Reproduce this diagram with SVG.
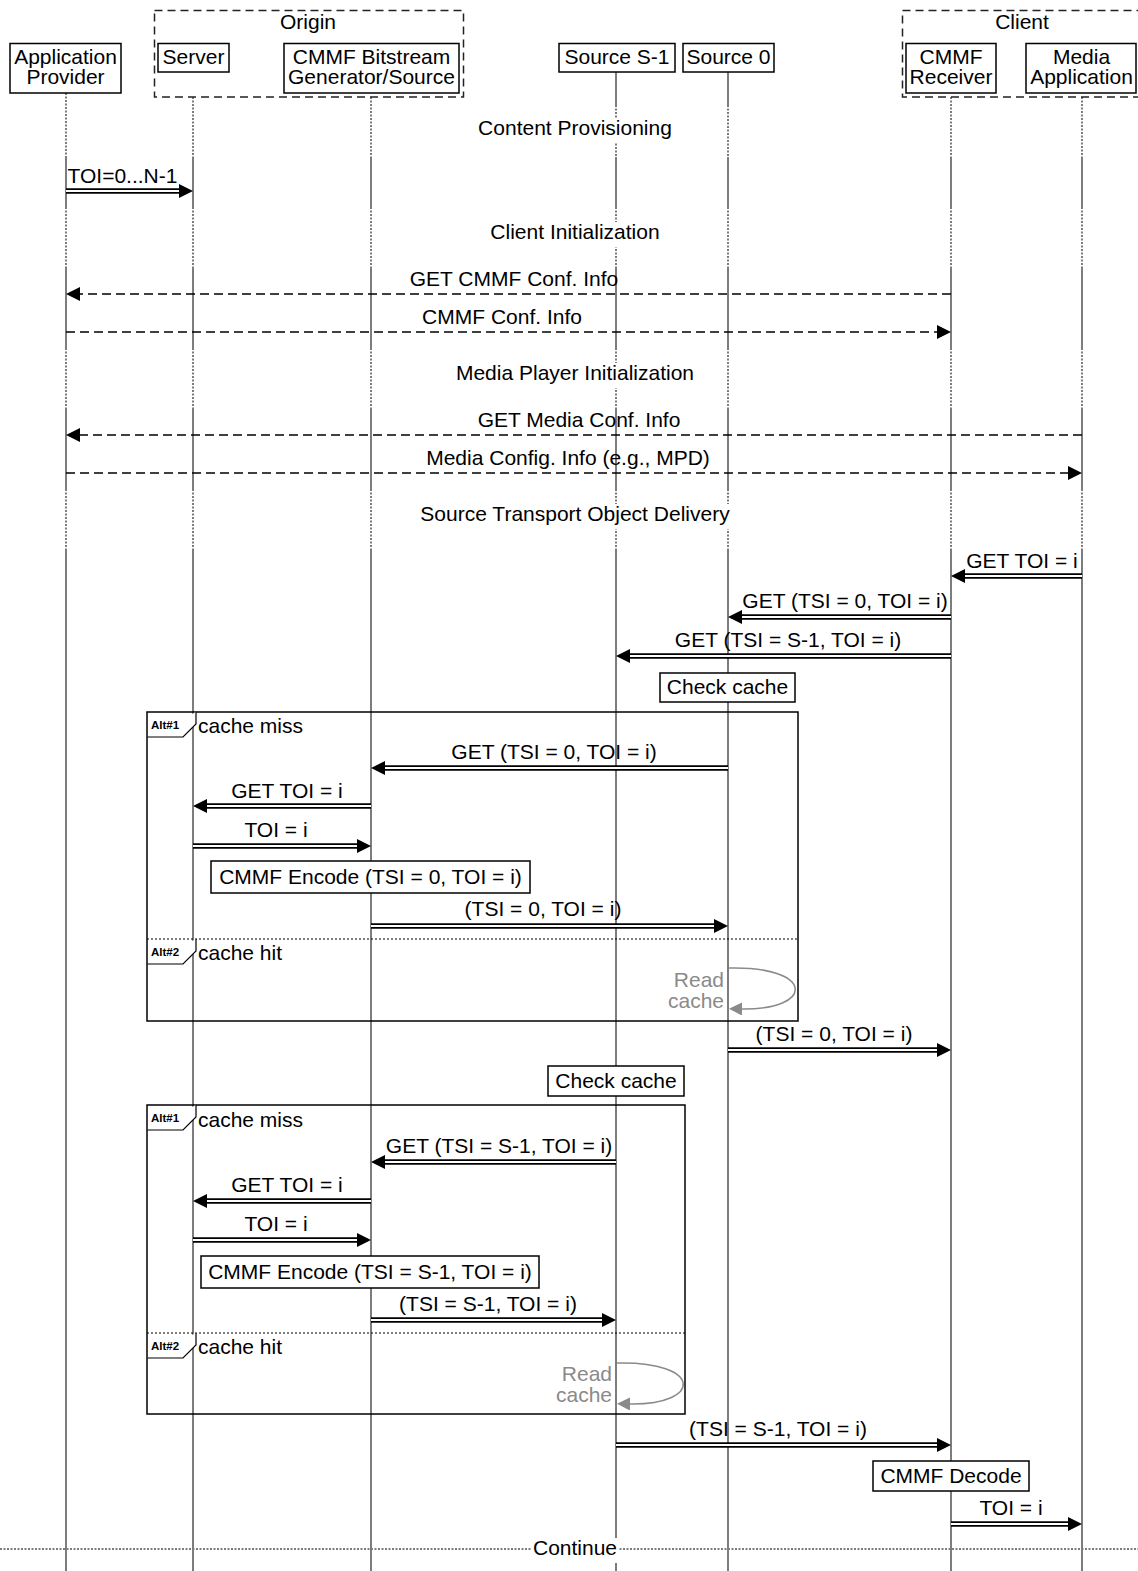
<svg xmlns="http://www.w3.org/2000/svg" width="1138" height="1571" viewBox="0 0 1138 1571">
<style>
text{font-family:"Liberation Sans",Arial,Helvetica,sans-serif;font-size:21px;fill:#000}
.c{text-anchor:middle}
.e{text-anchor:end}
.box{fill:#fff;stroke:#000;stroke-width:1.5}
.grp{fill:none;stroke:#222;stroke-width:1.5;stroke-dasharray:8 5}
.ll{stroke:#7d7d7d;stroke-width:2}
.lld{stroke:#7d7d7d;stroke-width:2;stroke-dasharray:2 1.5}
.bo{stroke:#000;stroke-width:5.5;marker-end:url(#hd)}
.bi{stroke:#fff;stroke-width:1.8}
.da{stroke:#000;stroke-width:1.5;stroke-dasharray:9 5;marker-end:url(#hd)}
.frame{fill:none;stroke:#000;stroke-width:1.5}
.div{stroke:#000;stroke-width:1;stroke-dasharray:2 2}
.tab{fill:#fff;stroke:#000;stroke-width:1.2}
.tabt{font-size:11.5px;font-weight:bold}
.loop{fill:none;stroke:#8a8a8a;stroke-width:1.5;marker-end:url(#hg)}
.gt{fill:#8a8a8a}
.bg{fill:#fff}
.cont{stroke:#7d7d7d;stroke-width:2;stroke-dasharray:2 1.5}
</style>
<defs>
<marker id="hd" markerUnits="userSpaceOnUse" markerWidth="14" markerHeight="14" refX="0" refY="7" orient="auto" viewBox="0 0 14 14"><path d="M0,0 L14,7 L0,14 z" fill="#000"/></marker>
<marker id="hg" markerUnits="userSpaceOnUse" markerWidth="13" markerHeight="13" refX="0" refY="6.5" orient="auto" viewBox="0 0 13 13"><path d="M0,0 L13,6.5 L0,13 z" fill="#8a8a8a"/></marker>
</defs>
<rect width="1138" height="1571" fill="#fff"/>

<g id="lifelines">
<line class="lld" x1="66" y1="93" x2="66" y2="157"/><line class="ll" x1="66" y1="157" x2="66" y2="207"/><line class="lld" x1="66" y1="207" x2="66" y2="268"/><line class="ll" x1="66" y1="268" x2="66" y2="348"/><line class="lld" x1="66" y1="348" x2="66" y2="409"/><line class="ll" x1="66" y1="409" x2="66" y2="489"/><line class="lld" x1="66" y1="489" x2="66" y2="550"/><line class="ll" x1="66" y1="550" x2="66" y2="1571"/>
<line class="lld" x1="193" y1="97" x2="193" y2="157"/><line class="ll" x1="193" y1="157" x2="193" y2="207"/><line class="lld" x1="193" y1="207" x2="193" y2="268"/><line class="ll" x1="193" y1="268" x2="193" y2="348"/><line class="lld" x1="193" y1="348" x2="193" y2="409"/><line class="ll" x1="193" y1="409" x2="193" y2="489"/><line class="lld" x1="193" y1="489" x2="193" y2="550"/><line class="ll" x1="193" y1="550" x2="193" y2="1571"/>
<line class="lld" x1="371" y1="97" x2="371" y2="157"/><line class="ll" x1="371" y1="157" x2="371" y2="207"/><line class="lld" x1="371" y1="207" x2="371" y2="268"/><line class="ll" x1="371" y1="268" x2="371" y2="348"/><line class="lld" x1="371" y1="348" x2="371" y2="409"/><line class="ll" x1="371" y1="409" x2="371" y2="489"/><line class="lld" x1="371" y1="489" x2="371" y2="550"/><line class="ll" x1="371" y1="550" x2="371" y2="1571"/>
<line class="ll" x1="616" y1="72" x2="616" y2="105"/><line class="lld" x1="616" y1="105" x2="616" y2="157"/><line class="ll" x1="616" y1="157" x2="616" y2="207"/><line class="lld" x1="616" y1="207" x2="616" y2="268"/><line class="ll" x1="616" y1="268" x2="616" y2="348"/><line class="lld" x1="616" y1="348" x2="616" y2="409"/><line class="ll" x1="616" y1="409" x2="616" y2="489"/><line class="lld" x1="616" y1="489" x2="616" y2="550"/><line class="ll" x1="616" y1="550" x2="616" y2="1571"/>
<line class="ll" x1="728" y1="72" x2="728" y2="105"/><line class="lld" x1="728" y1="105" x2="728" y2="157"/><line class="ll" x1="728" y1="157" x2="728" y2="207"/><line class="lld" x1="728" y1="207" x2="728" y2="268"/><line class="ll" x1="728" y1="268" x2="728" y2="348"/><line class="lld" x1="728" y1="348" x2="728" y2="409"/><line class="ll" x1="728" y1="409" x2="728" y2="489"/><line class="lld" x1="728" y1="489" x2="728" y2="550"/><line class="ll" x1="728" y1="550" x2="728" y2="1571"/>
<line class="lld" x1="951" y1="97" x2="951" y2="157"/><line class="ll" x1="951" y1="157" x2="951" y2="207"/><line class="lld" x1="951" y1="207" x2="951" y2="268"/><line class="ll" x1="951" y1="268" x2="951" y2="348"/><line class="lld" x1="951" y1="348" x2="951" y2="409"/><line class="ll" x1="951" y1="409" x2="951" y2="489"/><line class="lld" x1="951" y1="489" x2="951" y2="550"/><line class="ll" x1="951" y1="550" x2="951" y2="1571"/>
<line class="lld" x1="1082" y1="97" x2="1082" y2="157"/><line class="ll" x1="1082" y1="157" x2="1082" y2="207"/><line class="lld" x1="1082" y1="207" x2="1082" y2="268"/><line class="ll" x1="1082" y1="268" x2="1082" y2="348"/><line class="lld" x1="1082" y1="348" x2="1082" y2="409"/><line class="ll" x1="1082" y1="409" x2="1082" y2="489"/><line class="lld" x1="1082" y1="489" x2="1082" y2="550"/><line class="ll" x1="1082" y1="550" x2="1082" y2="1571"/>
</g>

<g id="group-origin">
<rect class="grp" x="154.5" y="10.5" width="309" height="86.5"/>
<text class="c" x="308" y="29">Origin</text>
</g>
<g id="group-client">
<rect class="grp" x="902.5" y="10.5" width="245" height="86.5"/>
<text class="c" x="1022" y="29">Client</text>
</g>

<g id="node-application-provider">
<rect class="box" x="10" y="43.5" width="111" height="49.5"/>
<text class="c" x="65.5" y="64">Application</text>
<text class="c" x="65.5" y="84">Provider</text>
</g>
<g id="node-server">
<rect class="box" x="158" y="43.5" width="71" height="28.5"/>
<text class="c" x="193.5" y="64">Server</text>
</g>
<g id="node-cmmf-generator">
<rect class="box" x="284" y="43.5" width="175" height="49.5"/>
<text class="c" x="371.5" y="64">CMMF Bitstream</text>
<text class="c" x="371.5" y="84">Generator/Source</text>
</g>
<g id="node-source-s1">
<rect class="box" x="559" y="43.5" width="116" height="28.5"/>
<text class="c" x="617" y="64">Source S-1</text>
</g>
<g id="node-source-0">
<rect class="box" x="683" y="43.5" width="91" height="28.5"/>
<text class="c" x="728.5" y="64">Source 0</text>
</g>
<g id="node-cmmf-receiver">
<rect class="box" x="906" y="43.5" width="90" height="49.5"/>
<text class="c" x="951" y="64">CMMF</text>
<text class="c" x="951" y="84">Receiver</text>
</g>
<g id="node-media-application">
<rect class="box" x="1026" y="43.5" width="110" height="49.5"/>
<text class="c" x="1081.5" y="64">Media</text>
<text class="c" x="1081.5" y="84">Application</text>
</g>

<g id="sections">
<rect class="bg" x="476" y="118" width="198" height="25"/>
<text class="c" x="575" y="135">Content Provisioning</text>
<rect class="bg" x="489" y="222" width="173" height="25"/>
<text class="c" x="575" y="239">Client Initialization</text>
<rect class="bg" x="455" y="363" width="241" height="25"/>
<text class="c" x="575" y="380">Media Player Initialization</text>
<rect class="bg" x="418" y="504" width="314" height="25"/>
<text class="c" x="575" y="521">Source Transport Object Delivery</text>
</g>

<g id="alt-frame-1">
<rect class="frame" x="147" y="712" width="651" height="309"/>
<polyline class="tab" points="147,737 183,737 196,724 196,712"/>
<text class="tabt" x="151" y="729">Alt#1</text>
<text x="198" y="733">cache miss</text>
<line class="div" x1="147" y1="939" x2="798" y2="939"/>
<polyline class="tab" points="147,964 183,964 196,951 196,939"/>
<text class="tabt" x="151" y="956">Alt#2</text>
<text x="198" y="960">cache hit</text>
</g>
<g id="alt-frame-2">
<rect class="frame" x="147" y="1105" width="538" height="309"/>
<polyline class="tab" points="147,1130 183,1130 196,1117 196,1105"/>
<text class="tabt" x="151" y="1122">Alt#1</text>
<text x="198" y="1127">cache miss</text>
<line class="div" x1="147" y1="1333" x2="685" y2="1333"/>
<polyline class="tab" points="147,1358 183,1358 196,1345 196,1333"/>
<text class="tabt" x="151" y="1350">Alt#2</text>
<text x="198" y="1354">cache hit</text>
</g>

<g id="note-check-cache-1">
<rect class="box" x="660" y="673" width="135" height="29"/>
<text class="c" x="727.5" y="694">Check cache</text>
</g>
<g id="note-encode-0">
<rect class="box" x="211" y="861" width="319" height="32"/>
<text class="c" x="370.5" y="884">CMMF Encode (TSI = 0, TOI = i)</text>
</g>
<g id="note-check-cache-2">
<rect class="box" x="548" y="1066" width="136" height="30"/>
<text class="c" x="616" y="1088">Check cache</text>
</g>
<g id="note-encode-s1">
<rect class="box" x="201" y="1256" width="338" height="32"/>
<text class="c" x="370" y="1279">CMMF Encode (TSI = S-1, TOI = i)</text>
</g>
<g id="note-decode">
<rect class="box" x="873" y="1461" width="156" height="30"/>
<text class="c" x="951" y="1483">CMMF Decode</text>
</g>

<g id="connectors">
<line class="bo" x1="66" y1="191" x2="179" y2="191"/><line class="bi" x1="66" y1="191" x2="179" y2="191"/>
<text class="c" x="122.5" y="183">TOI=0...N-1</text>

<line class="da" x1="951" y1="294" x2="80" y2="294"/>
<text class="c" x="514" y="286">GET CMMF Conf. Info</text>
<line class="da" x1="66" y1="332" x2="937" y2="332"/>
<text class="c" x="502" y="324">CMMF Conf. Info</text>
<line class="da" x1="1082" y1="435" x2="80" y2="435"/>
<text class="c" x="579" y="427">GET Media Conf. Info</text>
<line class="da" x1="66" y1="473" x2="1068" y2="473"/>
<text class="c" x="568" y="465">Media Config. Info (e.g., MPD)</text>

<line class="bo" x1="1082" y1="576" x2="965" y2="576"/><line class="bi" x1="1082" y1="576" x2="965" y2="576"/>
<text class="c" x="1022" y="568">GET TOI = i</text>
<line class="bo" x1="951" y1="617" x2="742" y2="617"/><line class="bi" x1="951" y1="617" x2="742" y2="617"/>
<text class="c" x="845" y="608">GET (TSI = 0, TOI = i)</text>
<line class="bo" x1="951" y1="656" x2="630" y2="656"/><line class="bi" x1="951" y1="656" x2="630" y2="656"/>
<text class="c" x="788" y="647">GET (TSI = S-1, TOI = i)</text>

<line class="bo" x1="728" y1="768" x2="385" y2="768"/><line class="bi" x1="728" y1="768" x2="385" y2="768"/>
<text class="c" x="554" y="759">GET (TSI = 0, TOI = i)</text>
<line class="bo" x1="371" y1="806" x2="207" y2="806"/><line class="bi" x1="371" y1="806" x2="207" y2="806"/>
<text class="c" x="287" y="798">GET TOI = i</text>
<line class="bo" x1="193" y1="846" x2="357" y2="846"/><line class="bi" x1="193" y1="846" x2="357" y2="846"/>
<text class="c" x="276" y="837">TOI = i</text>
<line class="bo" x1="371" y1="926" x2="714" y2="926"/><line class="bi" x1="371" y1="926" x2="714" y2="926"/>
<text class="c" x="543" y="916">(TSI = 0, TOI = i)</text>

<path class="loop" d="M729,968 C815,966 815,1010 742,1009"/>
<text class="e gt" x="724" y="987">Read</text>
<text class="e gt" x="724" y="1008">cache</text>

<line class="bo" x1="728" y1="1050" x2="937" y2="1050"/><line class="bi" x1="728" y1="1050" x2="937" y2="1050"/>
<text class="c" x="834" y="1041">(TSI = 0, TOI = i)</text>

<line class="bo" x1="616" y1="1162" x2="385" y2="1162"/><line class="bi" x1="616" y1="1162" x2="385" y2="1162"/>
<text class="c" x="499" y="1153">GET (TSI = S-1, TOI = i)</text>
<line class="bo" x1="371" y1="1201" x2="207" y2="1201"/><line class="bi" x1="371" y1="1201" x2="207" y2="1201"/>
<text class="c" x="287" y="1192">GET TOI = i</text>
<line class="bo" x1="193" y1="1240" x2="357" y2="1240"/><line class="bi" x1="193" y1="1240" x2="357" y2="1240"/>
<text class="c" x="276" y="1231">TOI = i</text>
<line class="bo" x1="371" y1="1320" x2="602" y2="1320"/><line class="bi" x1="371" y1="1320" x2="602" y2="1320"/>
<text class="c" x="488" y="1311">(TSI = S-1, TOI = i)</text>

<path class="loop" d="M617,1363 C703,1361 703,1405 630,1404"/>
<text class="e gt" x="612" y="1381">Read</text>
<text class="e gt" x="612" y="1402">cache</text>

<line class="bo" x1="616" y1="1445" x2="937" y2="1445"/><line class="bi" x1="616" y1="1445" x2="937" y2="1445"/>
<text class="c" x="778" y="1436">(TSI = S-1, TOI = i)</text>
<line class="bo" x1="951" y1="1524" x2="1068" y2="1524"/><line class="bi" x1="951" y1="1524" x2="1068" y2="1524"/>
<text class="c" x="1011" y="1515">TOI = i</text>
</g>

<g id="continue">
<line class="cont" x1="0" y1="1549" x2="1138" y2="1549"/>
<rect class="bg" x="531" y="1538" width="88" height="25"/>
<text class="c" x="575" y="1555">Continue</text>
</g>
</svg>
